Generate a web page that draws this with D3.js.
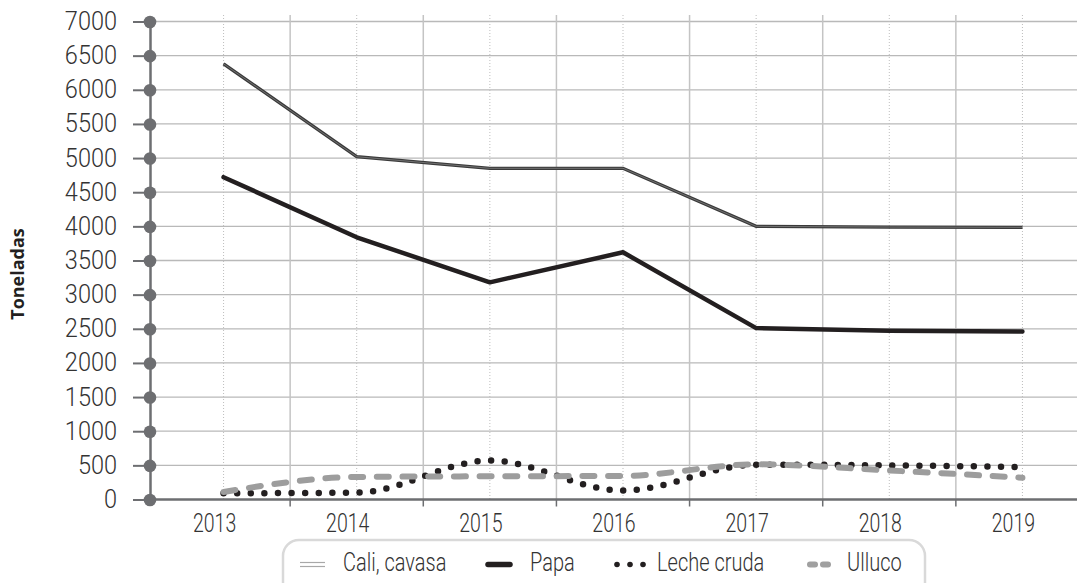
<!DOCTYPE html>
<html>
<head>
<meta charset="utf-8">
<script src="https://cdn.jsdelivr.net/npm/d3@7"></script>
<style>
  body { margin: 0; background: #fff; }
</style>
</head>
<body>
<div id="chart"></div>
<script>
// data
const years = ["2013", "2014", "2015", "2016", "2017", "2018", "2019"];
const caliCavasa = [6380, 5020, 4850, 4850, 4000, 3990, 3985];
const papa = [4720, 3840, 3180, 3620, 2510, 2470, 2460];
const lecheCruda = [92, 100, 570, 130, 510, 500, 475];
const ulluco = [110, 330, 340, 345, 515, 425, 320];
const yTicks = [0, 500, 1000, 1500, 2000, 2500, 3000, 3500, 4000, 4500, 5000, 5500, 6000, 6500, 7000];
const seriesNames = ["Cali, cavasa", "Papa", "Leche cruda", "Ulluco"];

const width = 1077, height = 583;
const axisColor = "#6d6e71";
const font = "Roboto, 'Open Sans', sans-serif";

// squeeze text horizontally (the original font is a narrow one)
function squeeze(sel, k) {
  sel.each(function () {
    const w = this.getComputedTextLength();
    this.setAttribute("textLength", w * k);
    this.setAttribute("lengthAdjust", "spacingAndGlyphs");
  });
}

const svg = d3.select("#chart")
  .append("svg")
  .attr("width", width)
  .attr("height", height)
  .style("font-family", font);

const x = d3.scaleBand()
  .domain(years)
  .range([157, 1089]);

const y = d3.scaleLinear()
  .domain([0, 7000])
  .range([499.5, 21.5]);

const cx = d => x(d) + x.bandwidth() / 2;
const axisX = 150, plotTop = 15, plotRight = width;

// horizontal grid
svg.append("g")
  .selectAll("line")
  .data(yTicks.filter(d => d > 0))
  .join("line")
  .attr("x1", axisX).attr("x2", plotRight)
  .attr("y1", d => y(d)).attr("y2", d => y(d))
  .attr("stroke", "#b9b9b9")
  .attr("stroke-width", 1.3);

// vertical grid: solid at category edges, dotted at centres
svg.append("g")
  .selectAll("line")
  .data(years)
  .join("line")
  .attr("x1", d => x(d) + x.bandwidth()).attr("x2", d => x(d) + x.bandwidth())
  .attr("y1", plotTop).attr("y2", y(0))
  .attr("stroke", "#c4c4c4")
  .attr("stroke-width", 1.5);

svg.append("g")
  .selectAll("line")
  .data(years)
  .join("line")
  .attr("x1", cx).attr("x2", cx)
  .attr("y1", plotTop).attr("y2", y(0))
  .attr("stroke", "#bdbdbd")
  .attr("stroke-width", 1)
  .attr("stroke-dasharray", "1,2");

// x axis
const xAxis = svg.append("g")
  .attr("transform", `translate(0,${y(0)})`)
  .call(d3.axisBottom(x).tickSize(0).tickPadding(0));
xAxis.select(".domain").remove();
xAxis.selectAll("text")
  .attr("x", -9)
  .attr("y", 32)
  .attr("dy", 0)
  .attr("font-size", 25)
  .attr("font-family", font)
  .attr("font-weight", 300)
  .attr("fill", "#333");
squeeze(xAxis.selectAll("text"), 0.78);

svg.append("line")
  .attr("x1", axisX).attr("x2", plotRight)
  .attr("y1", y(0)).attr("y2", y(0))
  .attr("stroke", axisColor)
  .attr("stroke-width", 2.5);

svg.append("g")
  .selectAll("line")
  .data(years.slice(0, -1))
  .join("line")
  .attr("x1", d => x(d) + x.bandwidth()).attr("x2", d => x(d) + x.bandwidth())
  .attr("y1", y(0)).attr("y2", y(0) + 7)
  .attr("stroke", axisColor)
  .attr("stroke-width", 1.5);

// y axis with round markers
const yAxis = svg.append("g")
  .attr("transform", `translate(${axisX},0)`)
  .call(d3.axisLeft(y).tickValues(yTicks).tickFormat(d3.format("d"))
    .tickSize(17).tickSizeOuter(0).tickPadding(16));
yAxis.select(".domain")
  .attr("stroke", axisColor)
  .attr("stroke-width", 2.5);
yAxis.selectAll(".tick line")
  .attr("stroke", axisColor)
  .attr("stroke-width", 2);
yAxis.selectAll(".tick")
  .append("circle")
  .attr("r", 6.3)
  .attr("fill", axisColor);
yAxis.selectAll(".tick text")
  .attr("font-size", 25)
  .attr("font-family", font)
  .attr("font-weight", 300)
  .attr("fill", "#333");
squeeze(yAxis.selectAll(".tick text"), 0.94);

// y title
svg.append("text")
  .attr("transform", "translate(24,274) rotate(-90)")
  .attr("text-anchor", "middle")
  .attr("font-family", "'Open Sans', 'DejaVu Sans', sans-serif")
  .attr("font-weight", 700)
  .attr("font-size", 18)
  .attr("fill", "#231f20")
  .text("Toneladas");

// lines
const straight = d3.line().x((d, i) => cx(years[i])).y(d => y(d));
const smooth = d3.line().x((d, i) => cx(years[i])).y(d => y(d)).curve(d3.curveMonotoneX);

// Cali, cavasa: double line
svg.append("path")
  .attr("d", straight(caliCavasa))
  .attr("fill", "none")
  .attr("stroke", "#3a3a3a")
  .attr("stroke-width", 3.3);
svg.append("path")
  .attr("d", straight(caliCavasa))
  .attr("fill", "none")
  .attr("stroke", "#8a8a8a")
  .attr("stroke-width", 0.7);

svg.append("path")
  .attr("d", straight(papa))
  .attr("fill", "none")
  .attr("stroke", "#231f20")
  .attr("stroke-width", 4.5)
  .attr("stroke-linejoin", "round")
  .attr("stroke-linecap", "round");

svg.append("path")
  .attr("d", smooth(lecheCruda))
  .attr("fill", "none")
  .attr("stroke", "#231f20")
  .attr("stroke-width", 6.5)
  .attr("stroke-linecap", "round")
  .attr("stroke-dasharray", "0,13.6");

svg.append("path")
  .attr("d", smooth(ulluco))
  .attr("fill", "none")
  .attr("stroke", "#9d9d9d")
  .attr("stroke-width", 6)
  .attr("stroke-linecap", "round")
  .attr("stroke-dasharray", "12,13.7");

// legend
const legend = svg.append("g");
legend.append("rect")
  .attr("x", 283).attr("y", 540)
  .attr("width", 642).attr("height", 70)
  .attr("rx", 16)
  .attr("fill", "#fff")
  .attr("stroke", "#d9d9d9")
  .attr("stroke-width", 2.5);

legend.selectAll("line.cali")
  .data([562.5, 566.5])
  .join("line")
  .attr("x1", 300).attr("x2", 325)
  .attr("y1", d => d).attr("y2", d => d)
  .attr("stroke", "#a8a8a8")
  .attr("stroke-width", 1.2);

legend.append("line")
  .attr("x1", 488).attr("x2", 510)
  .attr("y1", 564.5).attr("y2", 564.5)
  .attr("stroke", "#231f20")
  .attr("stroke-width", 5.5)
  .attr("stroke-linecap", "round");

legend.selectAll("circle")
  .data([617, 630, 643])
  .join("circle")
  .attr("cx", d => d).attr("cy", 564.5)
  .attr("r", 2.8)
  .attr("fill", "#231f20");

legend.selectAll("line.ulluco")
  .data([[810, 815], [823, 828]])
  .join("line")
  .attr("x1", d => d[0]).attr("x2", d => d[1])
  .attr("y1", 564.5).attr("y2", 564.5)
  .attr("stroke", "#a0a0a0")
  .attr("stroke-width", 6)
  .attr("stroke-linecap", "round");

const legendText = legend.selectAll("text")
  .data(seriesNames)
  .join("text")
  .attr("x", (d, i) => [343, 530, 657, 847][i])
  .attr("y", 571)
  .attr("font-size", 25)
  .attr("font-weight", 300)
  .attr("fill", "#333")
  .text(d => d);
squeeze(legendText, 0.8);
</script>
</body>
</html>
